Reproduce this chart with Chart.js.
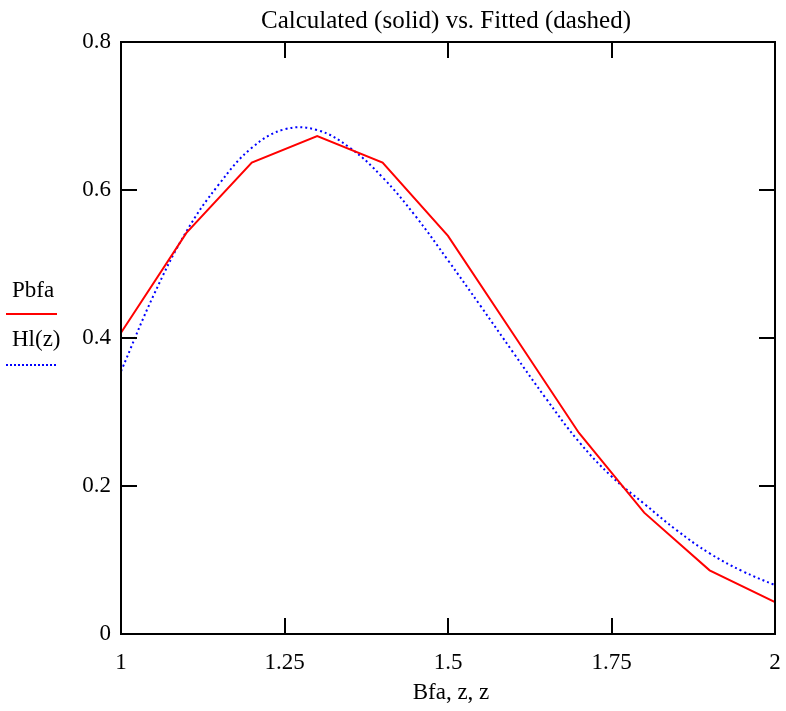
<!DOCTYPE html>
<html>
<head>
<meta charset="utf-8">
<script src="https://cdn.jsdelivr.net/npm/chart.js@4"></script>
<style>
  html, body { margin: 0; padding: 0; background: #fff; }
  #wrap { width: 786px; height: 711px; }
</style>
</head>
<body>
<div id="wrap"><canvas id="fitChart" width="786" height="711"></canvas></div>
<script>
const bfa = [1, 1.1, 1.2, 1.3, 1.4, 1.5, 1.6, 1.7, 1.8, 1.9, 2];
const pbfa = [0.407, 0.542, 0.637, 0.673, 0.637, 0.538, 0.405, 0.272, 0.164, 0.086, 0.043];

const z = [1, 1.05, 1.1, 1.15, 1.2, 1.25, 1.3, 1.35, 1.4, 1.45, 1.5,
           1.55, 1.6, 1.65, 1.7, 1.75, 1.8, 1.85, 1.9, 1.95, 2];
const hl = [0.355, 0.458, 0.544, 0.608, 0.657, 0.682, 0.681, 0.657, 0.617, 0.565, 0.505,
            0.443, 0.380, 0.318, 0.260, 0.213, 0.176, 0.140, 0.109, 0.085, 0.066];

const xTicks = [1, 1.25, 1.5, 1.75, 2];
const yTicks = [0, 0.2, 0.4, 0.6, 0.8];

const serif = "'Liberation Serif', 'DejaVu Serif', serif";

// frame, inward ticks, title and the side legend
const decorations = {
    id: "decorations",
    afterDraw(chart) {
        const ctx = chart.ctx;
        const a = chart.chartArea;
        const xs = chart.scales.x;
        const ys = chart.scales.y;
        const len = 16;

        ctx.save();
        ctx.strokeStyle = "#000";
        ctx.lineWidth = 2;
        ctx.strokeRect(a.left, a.top, a.right - a.left, a.bottom - a.top);

        ctx.beginPath();
        xTicks.forEach((t) => {
            const px = Math.round(xs.getPixelForValue(t));
            ctx.moveTo(px, a.bottom);
            ctx.lineTo(px, a.bottom - len);
            ctx.moveTo(px, a.top);
            ctx.lineTo(px, a.top + len);
        });
        yTicks.forEach((t) => {
            const py = Math.round(ys.getPixelForValue(t));
            ctx.moveTo(a.left, py);
            ctx.lineTo(a.left + len, py);
            ctx.moveTo(a.right, py);
            ctx.lineTo(a.right - len, py);
        });
        ctx.stroke();

        ctx.fillStyle = "#000";
        ctx.textAlign = "center";
        ctx.textBaseline = "middle";
        ctx.font = "25px " + serif;
        ctx.fillText("Calculated (solid) vs. Fitted (dashed)", 446, 21);
        ctx.font = "23px " + serif;
        ctx.fillText("Bfa, z, z", 451, 693);

        ctx.textAlign = "left";
        ctx.fillText("Pbfa", 12, 291);
        ctx.fillText("Hl(z)", 12, 340);

        ctx.strokeStyle = "#ff0000";
        ctx.beginPath();
        ctx.moveTo(6, 314);
        ctx.lineTo(57, 314);
        ctx.stroke();

        ctx.strokeStyle = "#0000ff";
        ctx.setLineDash([2, 2]);
        ctx.beginPath();
        ctx.moveTo(6, 365);
        ctx.lineTo(57, 365);
        ctx.stroke();
        ctx.restore();
    },
};

new Chart(document.getElementById("fitChart"), {
    type: "line",
    data: {
        datasets: [
            {
                label: "Pbfa",
                data: bfa.map((x, i) => ({ x: x, y: pbfa[i] })),
                borderColor: "#ff0000",
                borderWidth: 2,
                pointRadius: 0,
                tension: 0,
            },
            {
                label: "Hl(z)",
                data: z.map((x, i) => ({ x: x, y: hl[i] })),
                borderColor: "#0000ff",
                borderWidth: 2,
                borderDash: [2, 3],
                pointRadius: 0,
                tension: 0.4,
            },
        ],
    },
    options: {
        responsive: false,
        animation: false,
        layout: { padding: { top: 42, right: 11, left: 0, bottom: 0 } },
        plugins: {
            legend: { display: false },
            tooltip: { enabled: false },
        },
        scales: {
            x: {
                type: "linear",
                min: 1,
                max: 2,
                afterFit: (s) => {
                    s.height = 77;
                    s.paddingLeft = 0;
                    s.paddingRight = 0;
                },
                afterBuildTicks: (s) => { s.ticks = xTicks.map((v) => ({ value: v })); },
                grid: { display: false, drawTicks: false },
                border: { display: false },
                ticks: {
                    color: "#000",
                    padding: 15,
                    maxRotation: 0,
                    font: { family: serif, size: 23 },
                    callback: (v) => String(v),
                },
            },
            y: {
                min: 0,
                max: 0.8,
                afterFit: (s) => { s.width = 121; },
                afterBuildTicks: (s) => { s.ticks = yTicks.map((v) => ({ value: v })); },
                grid: { display: false, drawTicks: false },
                border: { display: false },
                ticks: {
                    color: "#000",
                    padding: 10,
                    font: { family: serif, size: 23 },
                    callback: (v) => String(v),
                },
            },
        },
    },
    plugins: [decorations],
});
</script>
</body>
</html>
